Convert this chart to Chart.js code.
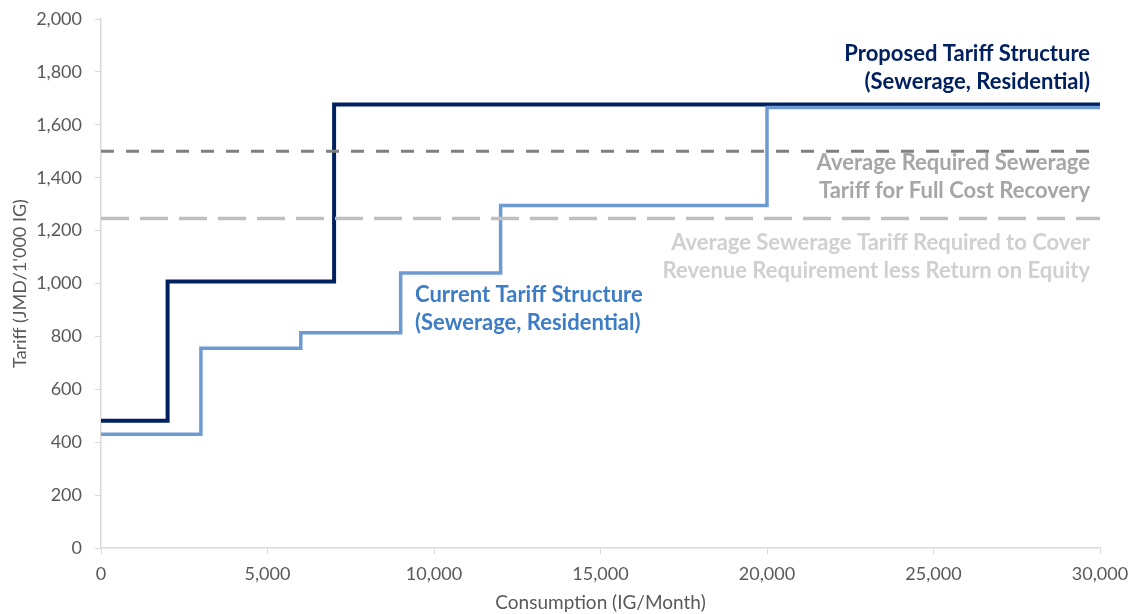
<!doctype html>
<html>
<head>
<meta charset="utf-8">
<title>Sewerage tariff structure</title>
<script src="https://cdn.jsdelivr.net/npm/chart.js@4"></script>
<style>
html, body { margin:0; padding:0; background:#fff; }
#wrap { width:1134px; height:614px; }
</style>
</head>
<body>
<div id="wrap"><canvas id="myChart" width="1134" height="614"></canvas></div>
<script>
// consumption break points (IG/Month) and tariff (JMD/1'000 IG), held until the next break
var proposedX = [0, 2000, 7000, 30000];
var proposedY = [481, 1008, 1677, 1677];
var currentX = [0, 3000, 6000, 9000, 12000, 20000, 30000];
var currentY = [430, 755, 814, 1040, 1295, 1665, 1665];
var fullCostLevel = 1500;
var lessRoeLevel = 1246;
var xRange = [0, 30000];

// text blocks: lines, anchor (x value, y value of first line)
var notes = [
  { lines: ['Proposed Tariff Structure', '(Sewerage, Residential)'], x: 29700, y: 1868, align: 'right', color: '#002060' },
  { lines: ['Average Required Sewerage', 'Tariff for Full Cost Recovery'], x: 29700, y: 1456, align: 'right', color: '#a6a6a6' },
  { lines: ['Average Sewerage Tariff Required to Cover', 'Revenue Requirement less Return on Equity'], x: 29700, y: 1153, align: 'right', color: '#d0d0d0' },
  { lines: ['Current Tariff Structure', '(Sewerage, Residential)'], x: 9430, y: 957, align: 'left', color: '#3d7cc6' }
];

function pts(xs, ys) {
  return xs.map(function (v, i) { return { x: v, y: ys[i] }; });
}

var notesPlugin = {
  id: 'notes',
  afterDatasetsDraw: function (chart) {
    var ctx = chart.ctx;
    var sx = chart.scales.x, sy = chart.scales.y;
    ctx.save();
    ctx.font = 'bold 22px Lato';
    ctx.textBaseline = 'middle';
    notes.forEach(function (n) {
      ctx.fillStyle = n.color;
      ctx.textAlign = n.align;
      var px = sx.getPixelForValue(n.x);
      var py = sy.getPixelForValue(n.y);
      n.lines.forEach(function (t, i) {
        ctx.fillText(t, px, py + i * 28);
      });
    });
    ctx.restore();
  }
};

Chart.defaults.font.family = 'Lato';
Chart.defaults.color = '#595959';

var ctx = document.getElementById('myChart').getContext('2d');
var chart = new Chart(ctx, {
  type: 'scatter',
  data: {
    datasets: [
      {
        label: 'Average Required Sewerage Tariff for Full Cost Recovery',
        data: pts(xRange, [fullCostLevel, fullCostLevel]),
        showLine: true, borderColor: '#7f7f7f', borderWidth: 3,
        borderDash: [13, 12], pointRadius: 0
      },
      {
        label: 'Average Sewerage Tariff Required to Cover Revenue Requirement less Return on Equity',
        data: pts(xRange, [lessRoeLevel, lessRoeLevel]),
        showLine: true, borderColor: '#bfbfbf', borderWidth: 3.5,
        borderDash: [28, 11], pointRadius: 0
      },
      {
        label: 'Current Tariff Structure (Sewerage, Residential)',
        data: pts(currentX, currentY),
        showLine: true, stepped: 'before', borderColor: '#6d9bd1', borderWidth: 3.5,
        pointRadius: 0
      },
      {
        label: 'Proposed Tariff Structure (Sewerage, Residential)',
        data: pts(proposedX, proposedY),
        showLine: true, stepped: 'before', borderColor: '#002060', borderWidth: 4,
        pointRadius: 0
      }
    ]
  },
  options: {
    responsive: false,
    animation: false,
    layout: { padding: { top: 19, right: 34, left: 0, bottom: 0 } },
    plugins: { legend: { display: false }, tooltip: { enabled: false } },
    scales: {
      x: {
        type: 'linear', min: 0, max: 30000,
        ticks: { stepSize: 5000, font: { size: 18 }, padding: 9, maxRotation: 0,
          callback: function (v) { return v.toLocaleString('en-US'); } },
        grid: { drawOnChartArea: false, drawTicks: true, tickLength: 6, color: '#d9d9d9' },
        border: { color: '#d9d9d9', width: 1.5 },
        title: { display: true, text: 'Consumption (IG/Month)', font: { size: 19 }, padding: { top: 2, bottom: 0 } },
        afterFit: function (s) { s.height = 66; s.paddingLeft = 0; s.paddingRight = 0; }
      },
      y: {
        min: 0, max: 2000,
        ticks: { stepSize: 200, font: { size: 18 }, padding: 13,
          callback: function (v) { return v.toLocaleString('en-US'); } },
        grid: { drawOnChartArea: false, drawTicks: true, tickLength: 6, color: '#d9d9d9' },
        border: { color: '#d9d9d9', width: 1.5 },
        title: { display: true, text: "Tariff (JMD/1'000 IG)", font: { size: 18 }, padding: { top: 9, bottom: 4 } },
        afterFit: function (s) { s.width = 101; s.paddingTop = 0; s.paddingBottom = 0; }
      }
    }
  },
  plugins: [notesPlugin]
});
</script>
</body>
</html>
